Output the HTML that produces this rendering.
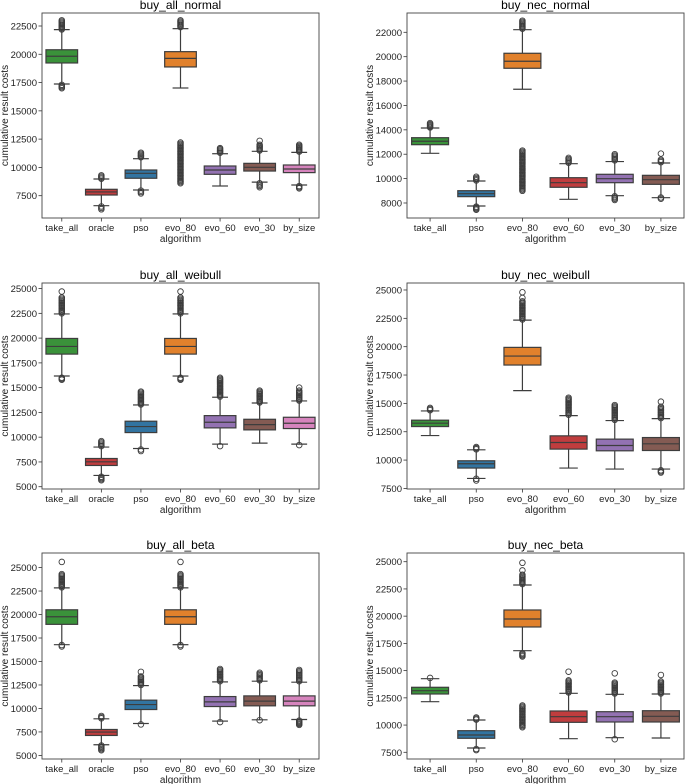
<!DOCTYPE html>
<html><head><meta charset="utf-8"><style>
html,body{margin:0;padding:0;background:#fff}
svg{display:block;font-family:"Liberation Sans","DejaVu Sans",sans-serif}
</style></head><body>
<svg id="fig" width="685" height="784" viewBox="0 0 685 784" xmlns="http://www.w3.org/2000/svg"></svg>
<script>
// ---- data (per panel) ----
const catsAll = ["take_all","oracle","pso","evo_80","evo_60","evo_30","by_size"];
const catsNec = ["take_all","pso","evo_80","evo_60","evo_30","by_size"];
const colorsAll = ["#3a923a","#c03d3e","#3274a1","#e1812c","#9372b2","#845b53","#d684bd"];
const colorsNec = ["#3a923a","#3274a1","#e1812c","#c03d3e","#9372b2","#845b53"];
// each stat: [whiskerLow, q1, median, q3, whiskerHigh]
const statsAllNormal = [[17376,19232,19825,20400,22177],[6616,7560,7830,8065,8976],[8004,9040,9480,9772,10770],[17020,18880,19640,20232,22265],[8357,9390,9770,10125,11210],[8700,9680,10010,10360,11425],[8445,9540,9860,10214,11330]];
const outAllNormal = [[[22200,23000],[17000,17300]],[[9000,9300],[6300,6550]],[[10900,11300],[7700,7950]],[[22400,23000],[8600,12200]],[[11300,11700]],[[11500,12000],[12350,12350],[8250,8600]],[[11400,12000],[8150,8350]]];
const statsNecNormal = [[12076,12782,13061,13356,14152],[7753,8520,8764,9009,9804],[17327,19050,19625,20280,22216],[8303,9288,9665,10075,11223],[8600,9665,9995,10354,11400],[8435,9530,9913,10270,11280]];
const outNecNormal = [[[14200,14550]],[[9850,10150],[7450,7700]],[[22300,22950],[9000,12300]],[[11300,11700]],[[11500,12000],[8250,8550]],[[11350,11550],[12050,12050],[8350,8450]]];
const statsAllWeibull = [[16172,18386,19160,19967,22443],[6137,7143,7515,7848,9000],[8855,10465,11070,11612,13253],[16172,18386,19160,19967,22443],[9298,10938,11505,12176,14032],[9398,10736,11270,11807,13450],[9298,10870,11404,12010,13656]];
const outAllWeibull = [[[22500,24100],[24700,24700],[15800,16000]],[[9100,9600],[5650,6000]],[[13300,14600],[8600,8750]],[[22500,24100],[24700,24700],[15800,16000]],[[14100,16000],[9100,9100]],[[13500,14700]],[[13700,14700],[15000,15000],[9200,9200]]];
const statsNecWeibull = [[12164,12956,13255,13519,14336],[8382,9297,9675,9939,10906],[16122,18382,19174,19939,22340],[9297,10968,11549,12138,13923],[9209,10818,11285,11848,13483],[9209,10845,11434,11988,13659]];
const outNecWeibull = [[[14400,14600]],[[10950,11150],[8200,8350]],[[22400,24000],[24300,24300],[24800,24800]],[[14000,15500]],[[13550,14850]],[[13700,14700],[15150,15150],[8900,9100]]];
const statsAllBeta = [[16788,18954,19761,20504,22840],[6137,7124,7485,7761,8898],[8398,9885,10416,10883,12434],[16788,18954,19761,20504,22840],[8653,10203,10702,11266,12827],[8790,10278,10777,11337,12900],[8823,10278,10777,11337,12794]];
const outAllBeta = [[[22900,24300],[25600,25600],[16600,16750]],[[8950,9200],[5550,6050]],[[12500,13400],[13900,13900],[8300,8300]],[[22900,24300],[25600,25600],[16600,16750]],[[12900,14200],[8550,8550]],[[13000,13800],[8750,8750]],[[12900,14100],[8250,8700]]];
const statsNecBeta = [[12147,12854,13157,13469,14259],[7895,8786,9089,9484,10466],[16830,19006,19741,20567,22863],[8749,10252,10769,11293,12918],[8841,10283,10769,11228,12826],[8810,10283,10806,11320,12854]];
const outNecBeta = [[[14330,14330]],[[10500,10700],[7700,7800]],[[22950,23800],[24200,24200],[24900,24900],[16300,16600],[9800,11800]],[[13000,14100],[14900,14900]],[[12900,13900],[14750,14750],[8700,8700]],[[12900,14000],[14600,14600]]];
const ticksA = [7500,10000,12500,15000,17500,20000,22500];
const ticksB = [8000,10000,12000,14000,16000,18000,20000,22000];
const ticksC = [5000,7500,10000,12500,15000,17500,20000,22500,25000];
const ticksD = [7500,10000,12500,15000,17500,20000,22500,25000];

const panels = [
 {name:"buy_all_normal",cats:catsAll,cols:colorsAll,stats:statsAllNormal,outs:outAllNormal,ticks:ticksA,dom:[5528,23649],x0:42,x1:319,y0:13,y1:218},
 {name:"buy_nec_normal",cats:catsNec,cols:colorsNec,stats:statsNecNormal,outs:outNecNormal,ticks:ticksB,dom:[6769,23583],x0:407,x1:684,y0:13,y1:218},
 {name:"buy_all_weibull",cats:catsAll,cols:colorsAll,stats:statsAllWeibull,outs:outAllWeibull,ticks:ticksC,dom:[4768,25564],x0:42,x1:319,y0:283,y1:489},
 {name:"buy_nec_weibull",cats:catsNec,cols:colorsNec,stats:statsNecWeibull,outs:outNecWeibull,ticks:ticksD,dom:[7450,25616],x0:407,x1:684,y0:283,y1:489},
 {name:"buy_all_beta",cats:catsAll,cols:colorsAll,stats:statsAllBeta,outs:outAllBeta,ticks:ticksC,dom:[4618,26550],x0:42,x1:319,y0:553,y1:759},
 {name:"buy_nec_beta",cats:catsNec,cols:colorsNec,stats:statsNecBeta,outs:outNecBeta,ticks:ticksD,dom:[6885,25799],x0:407,x1:684,y0:553,y1:759}
];

const NS="http://www.w3.org/2000/svg";
const svg=document.getElementById('fig');
function mk(tag,attrs,parent){const e=document.createElementNS(NS,tag);for(const k in attrs)e.setAttribute(k,attrs[k]);(parent||svg).appendChild(e);return e;}
const LC="#3d3d3d";

panels.forEach(p=>{
  const g=mk('g',{});
  
  
  const y=v=>p.y1-(v-p.dom[0])/(p.dom[1]-p.dom[0])*(p.y1-p.y0);
  const band=(p.x1-p.x0)/p.cats.length;
  const xc=i=>p.x0+band*(i+0.5);
  const bw=band*0.8;
  // title
  const t=mk('text',{x:(p.x0+p.x1)/2,y:p.y0-4,'text-anchor':'middle','font-size':12,fill:'#000'},g);
  t.textContent=p.name;
  
  
  // y ticks
  p.ticks.forEach(v=>{
    const yy=y(v);
    mk('line',{x1:p.x0-3.5,x2:p.x0,y1:yy,y2:yy,stroke:'#333','stroke-width':0.8},g);
    const tl=mk('text',{x:p.x0-5,y:yy+3.5,'text-anchor':'end','font-size':9.5,fill:'#222'},g);
    tl.textContent=v;
    
    
  });
  const yl=mk('text',{x:0,y:0,'text-anchor':'middle','font-size':10,fill:'#222',transform:`translate(${p.x0-34},${(p.y0+p.y1)/2}) rotate(-90)`},g);
  yl.textContent="cumulative result costs";
  
  
  // boxes
  p.cats.forEach((c,i)=>{
    const s=p.stats[i], cx=xc(i);
    const bg=mk('g',{},g);
    
    
    mk('line',{x1:cx,x2:cx,y1:y(s[4]),y2:y(s[3]),stroke:LC,'stroke-width':1.2},bg);
    mk('line',{x1:cx,x2:cx,y1:y(s[1]),y2:y(s[0]),stroke:LC,'stroke-width':1.2},bg);
    mk('line',{x1:cx-bw/4,x2:cx+bw/4,y1:y(s[4]),y2:y(s[4]),stroke:LC,'stroke-width':1.2},bg);
    mk('line',{x1:cx-bw/4,x2:cx+bw/4,y1:y(s[0]),y2:y(s[0]),stroke:LC,'stroke-width':1.2},bg);
    mk('rect',{x:cx-bw/2,y:y(s[3]),width:bw,height:y(s[1])-y(s[3]),fill:p.cols[i],stroke:LC,'stroke-width':1.2},bg);
    mk('line',{x1:cx-bw/2,x2:cx+bw/2,y1:y(s[2]),y2:y(s[2]),stroke:LC,'stroke-width':1.2},bg);
    p.outs[i].forEach(r=>{
      const ya=y(r[0]), yb=y(r[1]);
      const n=Math.max(1,Math.round(Math.abs(ya-yb)/1.2)+1);
      for(let k=0;k<n;k++){
        const yy=n===1?ya:ya+(yb-ya)*k/(n-1);
        mk('circle',{cx:cx,cy:yy,r:2.8,fill:'none',stroke:LC,'stroke-width':0.9},bg);
      }
    });
    // x tick
    mk('line',{x1:cx,x2:cx,y1:p.y1,y2:p.y1+3.5,stroke:'#333','stroke-width':0.8},g);
    const xl=mk('text',{x:cx,y:p.y1+13,'text-anchor':'middle','font-size':9.5,fill:'#222'},g);
    xl.textContent=c;
    
    
  });
  const xt=mk('text',{x:(p.x0+p.x1)/2,y:p.y1+24,'text-anchor':'middle','font-size':10,fill:'#222'},g);
  xt.textContent="algorithm";
  
  
  const fr=mk('rect',{x:p.x0,y:p.y0,width:p.x1-p.x0,height:p.y1-p.y0,fill:'none',stroke:'#444','stroke-width':0.9},g);
  
  
});
</script>
</body></html>
